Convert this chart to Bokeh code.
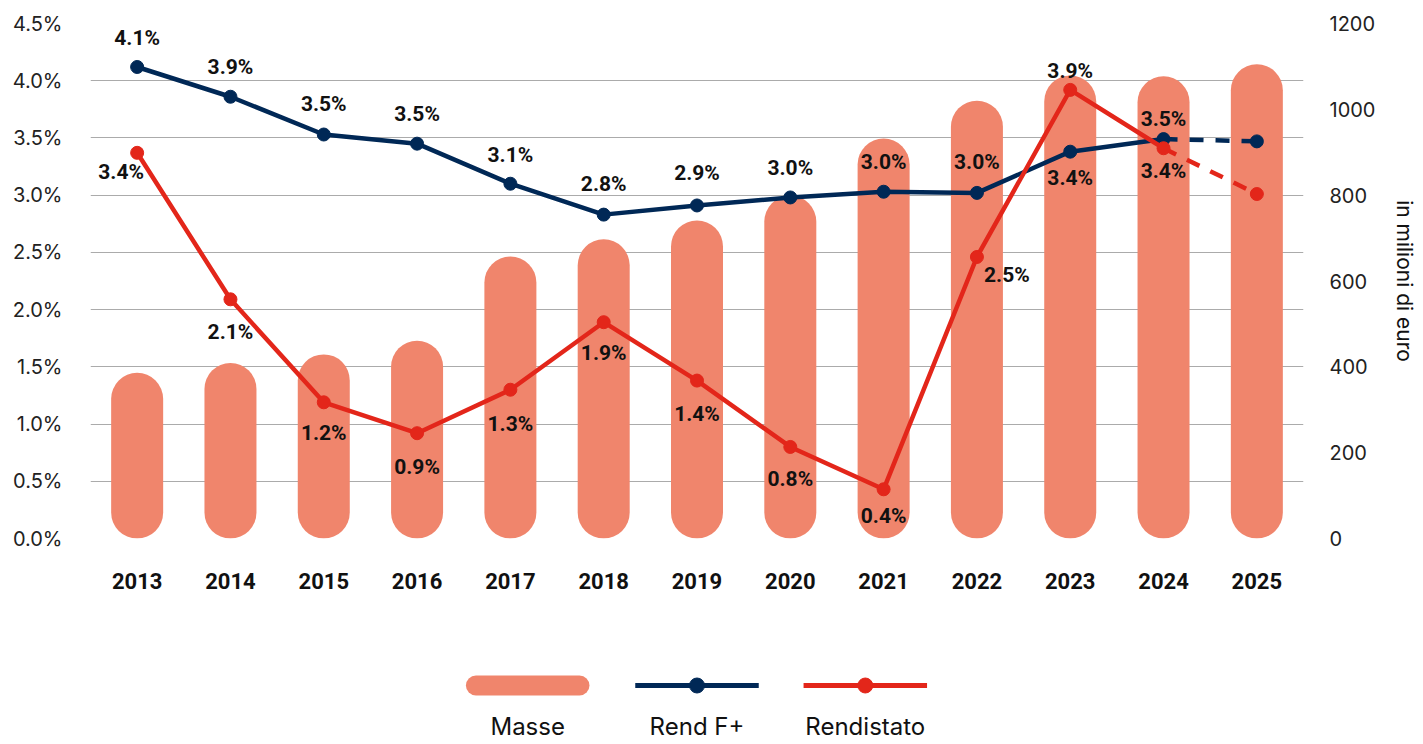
from bokeh.plotting import figure
from bokeh.models import Range1d, LinearAxis, FixedTicker, PrintfTickFormatter, FactorRange, ColumnDataSource
from bokeh.layouts import column
from bokeh.embed import file_html
from bokeh.resources import INLINE
from bokeh.core.properties import value

# ---------------- data ----------------
years = ["2013", "2014", "2015", "2016", "2017", "2018", "2019",
         "2020", "2021", "2022", "2023", "2024", "2025"]
masse = [386, 409, 429, 461, 657, 697, 741, 799, 932, 1020, 1079, 1077, 1105]
rend_fplus = [4.12, 3.86, 3.53, 3.45, 3.10, 2.83, 2.91, 2.98, 3.03, 3.02, 3.38, 3.49, 3.47]
rendistato = [3.37, 2.09, 1.19, 0.92, 1.30, 1.89, 1.38, 0.80, 0.43, 2.46, 3.92, 3.41, 3.01]
fplus_labels = ["4.1%", "3.9%", "3.5%", "3.5%", "3.1%", "2.8%", "2.9%",
                "3.0%", "3.0%", "3.0%", "3.4%", "3.5%", ""]
rendistato_labels = ["3.4%", "2.1%", "1.2%", "0.9%", "1.3%", "1.9%", "1.4%",
                     "0.8%", "0.4%", "2.5%", "3.9%", "3.4%", ""]
left_ticks = [0.0, 0.5, 1.0, 1.5, 2.0, 2.5, 3.0, 3.5, 4.0, 4.5]
right_ticks = [0, 200, 400, 600, 800, 1000, 1200]
legend_names = ["Masse", "Rend F+", "Rendistato"]

# ---------------- styles / layout ----------------
C_BAR = "#F0856C"
C_NAVY = "#002856"
C_RED = "#E3261A"
C_GRID = "#ABABAB"
REG_FONT = "Inter"
BOLD_FONT = "Roboto"

W, H = 1420, 610
B_LEFT, B_RIGHT, B_TOP, B_BOTTOM = 90, 112, 23, 72
FRAME_H = H - B_TOP - B_BOTTOM
BAR_PX = 52
R_MAX = 1200.0
r_units = (BAR_PX / 2.0) * R_MAX / FRAME_H

# label offsets (screen px)
fplus_dx = [0] * 13
fplus_dy = [-29, -30, -31, -30, -29, -31, -32, -29, -30, -31, 26, -20, 0]
red_dx = [-16, 0, 0, 0, 0, 0, 0, 0, 0, 30, 0, 0, 0]
red_dy = [19, 33, 31, 34, 34, 31, 33, 32, 27, 18, -19, 23, 0]

p = figure(width=W, height=H, x_range=FactorRange(*years), y_range=Range1d(0, 4.5),
           output_backend="svg", toolbar_location=None,
           min_border_left=B_LEFT, min_border_right=B_RIGHT,
           min_border_top=B_TOP, min_border_bottom=B_BOTTOM)
p.extra_y_ranges = {"masse": Range1d(0, R_MAX)}
p.outline_line_color = None
p.background_fill_color = "white"
p.border_fill_color = "white"

# left axis
ya = p.yaxis[0]
ya.ticker = FixedTicker(ticks=left_ticks)
ya.formatter = PrintfTickFormatter(format="%.1f%%")
ya.axis_line_color = None
ya.major_tick_line_color = None
ya.minor_tick_line_color = None
ya.major_label_standoff = 22
ya.major_label_text_font = REG_FONT
ya.major_label_text_font_size = "20px"
ya.major_label_text_color = "#222222"

# right axis
ra = LinearAxis(y_range_name="masse", ticker=FixedTicker(ticks=right_ticks),
                axis_label="in milioni di euro")
ra.axis_line_color = None
ra.major_tick_line_color = None
ra.minor_tick_line_color = None
ra.major_label_standoff = 20
ra.major_label_text_font = REG_FONT
ra.major_label_text_font_size = "20px"
ra.major_label_text_color = "#222222"
ra.axis_label_text_font = REG_FONT
ra.axis_label_text_font_size = "21px"
ra.axis_label_text_font_style = "normal"
ra.axis_label_text_color = "#111111"
ra.axis_label_standoff = 14
p.add_layout(ra, "right")

# x axis
xa = p.xaxis[0]
xa.axis_line_color = None
xa.major_tick_line_color = None
xa.minor_tick_line_color = None
xa.major_label_standoff = 28
xa.major_label_text_font = BOLD_FONT
xa.major_label_text_font_style = "bold"
xa.major_label_text_font_size = "22px"
xa.major_label_text_color = "#111111"

p.xgrid.grid_line_color = None
p.ygrid.grid_line_color = C_GRID
p.ygrid.grid_line_width = 1.2

# bars as pills
bar_src = ColumnDataSource(dict(x=years, y0=[r_units] * len(masse),
                                y1=[m - r_units for m in masse]))
p.segment(x0="x", y0="y0", x1="x", y1="y1", source=bar_src, y_range_name="masse",
          line_width=BAR_PX, line_cap="round", line_color=C_BAR)

# Rend F+
p.line(years[:12], rend_fplus[:12], line_color=C_NAVY, line_width=4.5)
p.line(years[11:], rend_fplus[11:], line_color=C_NAVY, line_width=4.5, line_dash="14 12")
p.scatter(years, rend_fplus, size=13, marker="circle", fill_color=C_NAVY, line_color=C_NAVY)

# Rendistato
p.line(years[:12], rendistato[:12], line_color=C_RED, line_width=4.5)
p.line(years[11:], rendistato[11:], line_color=C_RED, line_width=4.5, line_dash="14 12")
p.scatter(years, rendistato, size=13, marker="circle", fill_color=C_RED, line_color=C_RED)

# data labels
p.text(x=years, y=rend_fplus, text=fplus_labels, x_offset=fplus_dx, y_offset=fplus_dy,
       text_align="center", text_baseline="middle", text_font=value(BOLD_FONT),
       text_font_style="bold", text_font_size="21px", text_color="#111111")
p.text(x=years, y=rendistato, text=rendistato_labels, x_offset=red_dx, y_offset=red_dy,
       text_align="center", text_baseline="middle", text_font=value(BOLD_FONT),
       text_font_style="bold", text_font_size="21px", text_color="#111111")

# ---------------- legend figure (data units = page pixels) ----------------
LH = 132
lg = figure(width=W, height=LH, x_range=Range1d(B_LEFT, W - B_RIGHT), y_range=Range1d(0, LH),
            output_backend="svg", toolbar_location=None, x_axis_type=None, y_axis_type=None,
            min_border_left=B_LEFT, min_border_right=B_RIGHT,
            min_border_top=0, min_border_bottom=0)
lg.outline_line_color = None
lg.xgrid.visible = False
lg.ygrid.visible = False
sym_y = 57
text_y = 16
centers = [529, 699, 868]
half = 62
lg.segment(x0=[centers[0] - half + 10], y0=[sym_y], x1=[centers[0] + half - 10], y1=[sym_y],
           line_width=20, line_cap="round", line_color=C_BAR)
lg.segment(x0=[centers[1] - half], y0=[sym_y], x1=[centers[1] + half], y1=[sym_y],
           line_width=5, line_color=C_NAVY)
lg.scatter([centers[1]], [sym_y], size=15, marker="circle", fill_color=C_NAVY, line_color=C_NAVY)
lg.segment(x0=[centers[2] - half], y0=[sym_y], x1=[centers[2] + half], y1=[sym_y],
           line_width=5, line_color=C_RED)
lg.scatter([centers[2]], [sym_y], size=15, marker="circle", fill_color=C_RED, line_color=C_RED)
lg.text(x=centers, y=[text_y] * 3, text=legend_names, text_align="center",
        text_baseline="middle", text_font=value(REG_FONT), text_font_size="24px",
        text_color="#111111")

layout = column(p, lg, spacing=0)
open("out.html", "w").write(file_html(layout, INLINE))
